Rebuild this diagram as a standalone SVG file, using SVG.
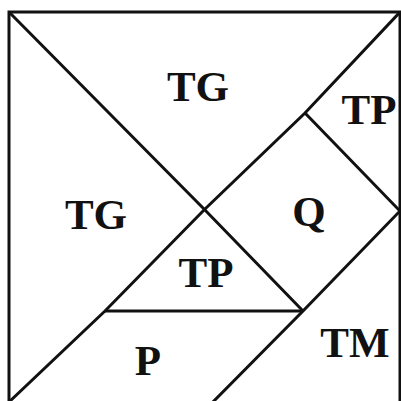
<svg xmlns="http://www.w3.org/2000/svg" width="401" height="401" viewBox="0 0 401 401">
<style>
.l{stroke:#111;stroke-width:3;fill:none;stroke-linejoin:miter}
.t{font-family:"Liberation Serif",serif;font-weight:bold;font-size:43px;fill:#111;text-anchor:middle}
</style>
<rect width="401" height="401" fill="#fff"/>
<g id="connectors">
<rect class="l" x="9" y="12" width="391" height="400"/>
<polyline class="l" points="9,12 204.5,209.5 303,311"/>
<polyline class="l" points="400,12 305,113 204.5,209.5 105,311 9,402"/>
<polyline class="l" points="305,113 400,211 303,311 205,410"/>
<line class="l" x1="105" y1="311" x2="303" y2="311"/>
</g>
<g id="tg-top"><text class="t" x="198" y="101">TG</text></g>
<g id="tp-top"><text class="t" x="369" y="124">TP</text></g>
<g id="tg-left"><text class="t" x="96" y="229">TG</text></g>
<g id="q"><text class="t" x="309" y="226">Q</text></g>
<g id="tp-mid"><text class="t" x="206" y="287">TP</text></g>
<g id="p"><text class="t" x="148" y="375">P</text></g>
<g id="tm"><text class="t" x="355" y="357">TM</text></g>
</svg>
